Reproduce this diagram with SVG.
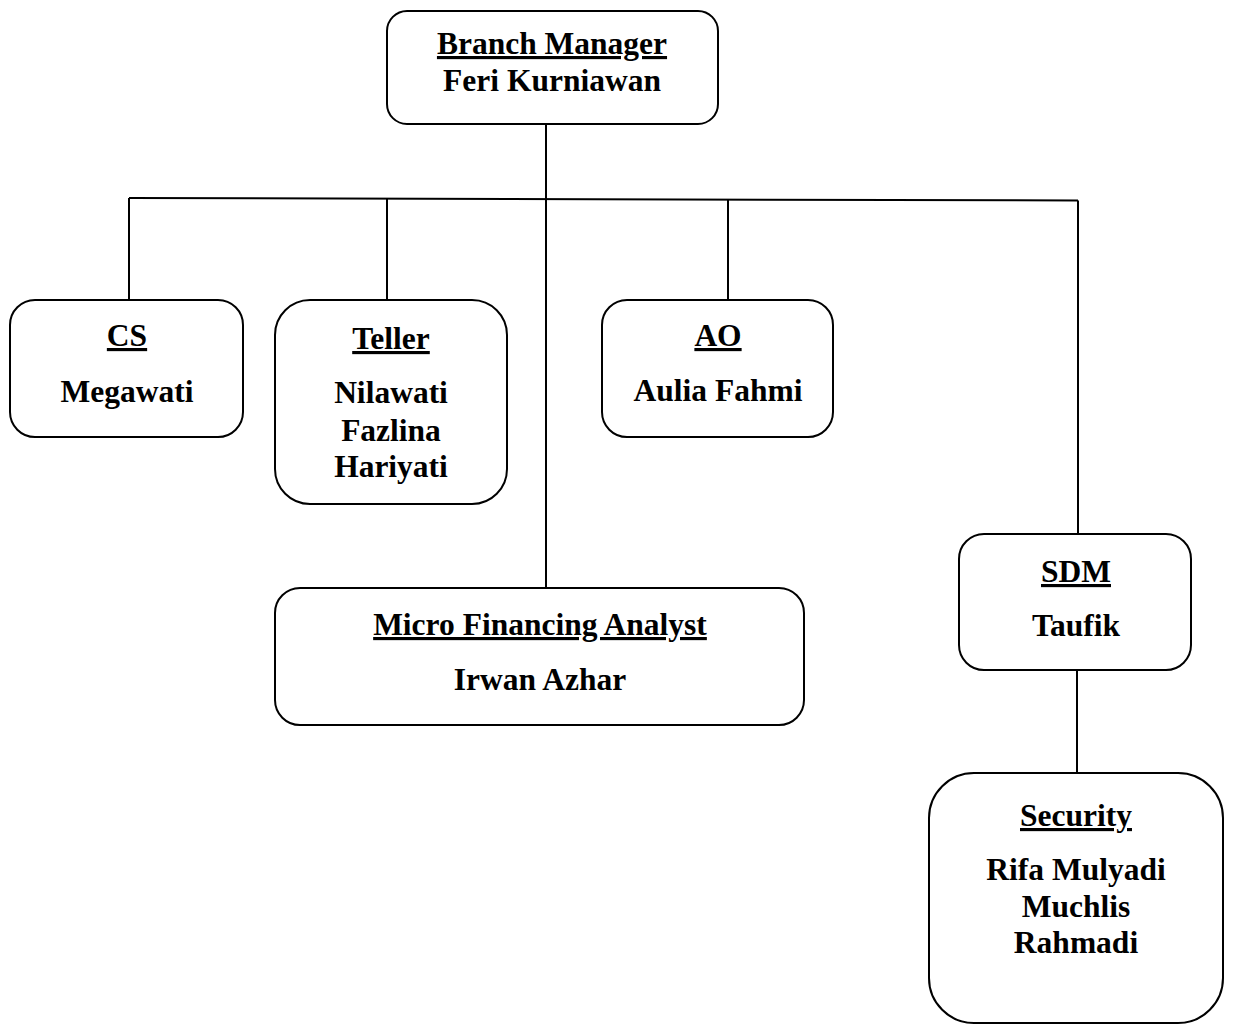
<svg xmlns="http://www.w3.org/2000/svg" width="1233" height="1024" viewBox="0 0 1233 1024">
  <style>
    .box { fill: #ffffff; stroke: #000000; stroke-width: 2; }
    .wire { fill: none; stroke: #000000; stroke-width: 2; }
    text { font-family: "Liberation Serif", "Times New Roman", serif; font-weight: bold; font-size: 31.5px; fill: #000000; text-anchor: middle; }
    .title { text-decoration: underline; text-decoration-thickness: 3px; text-underline-offset: 4px; }
  </style>
  <rect width="1233" height="1024" fill="#ffffff"/>

  <!-- connectors -->
  <g id="connectors">
    <line class="wire" x1="546" y1="124" x2="546" y2="588"/>
    <line class="wire" x1="129" y1="198" x2="1078" y2="200.5"/>
    <line class="wire" x1="129" y1="198" x2="129" y2="300"/>
    <line class="wire" x1="387" y1="199" x2="387" y2="300"/>
    <line class="wire" x1="728" y1="200" x2="728" y2="300"/>
    <line class="wire" x1="1078" y1="200.5" x2="1078" y2="534"/>
    <line class="wire" x1="1077" y1="670" x2="1077" y2="773"/>
  </g>

  <g id="branch-manager">
    <rect class="box" x="387" y="11" width="331" height="113" rx="20"/>
    <text class="title" x="552" y="54">Branch Manager</text>
    <text x="552" y="91">Feri Kurniawan</text>
  </g>

  <g id="cs">
    <rect class="box" x="10" y="300" width="233" height="137" rx="25"/>
    <text class="title" x="127" y="346">CS</text>
    <text x="127" y="402">Megawati</text>
  </g>

  <g id="teller">
    <rect class="box" x="275" y="300" width="232" height="204" rx="35"/>
    <text class="title" x="391" y="349">Teller</text>
    <text x="391" y="403">Nilawati</text>
    <text x="391" y="441">Fazlina</text>
    <text x="391" y="477">Hariyati</text>
  </g>

  <g id="ao">
    <rect class="box" x="602" y="300" width="231" height="137" rx="25"/>
    <text class="title" x="718" y="346">AO</text>
    <text x="718" y="401">Aulia Fahmi</text>
  </g>

  <g id="micro-financing-analyst">
    <rect class="box" x="275" y="588" width="529" height="137" rx="25"/>
    <text class="title" x="540" y="635">Micro Financing Analyst</text>
    <text x="540" y="690">Irwan Azhar</text>
  </g>

  <g id="sdm">
    <rect class="box" x="959" y="534" width="232" height="136" rx="25"/>
    <text class="title" x="1076" y="582">SDM</text>
    <text x="1076" y="636">Taufik</text>
  </g>

  <g id="security">
    <rect class="box" x="929" y="773" width="294" height="250" rx="45"/>
    <text class="title" x="1076" y="826">Security</text>
    <text x="1076" y="880">Rifa Mulyadi</text>
    <text x="1076" y="917">Muchlis</text>
    <text x="1076" y="953">Rahmadi</text>
  </g>
</svg>
